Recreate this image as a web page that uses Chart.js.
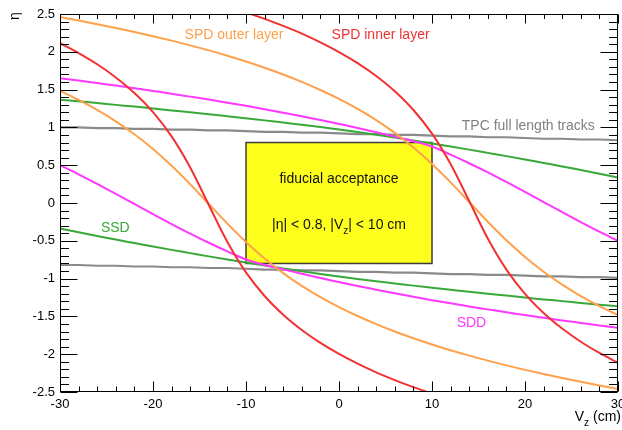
<!DOCTYPE html>
<html>
<head>
<meta charset="utf-8">
<script src="https://cdn.jsdelivr.net/npm/chart.js@4/dist/chart.umd.min.js"></script>
<style>
  html, body { margin: 0; padding: 0; background: #ffffff; }
  canvas { display: block; }
</style>
</head>
<body>
<canvas id="c" width="622" height="430"></canvas>
<script>
// Vertex position along the beam (cm)
const vz = [-30, -28, -26, -24, -22, -20, -18, -16, -14, -12, -10, -8, -6, -4, -2, 0,
            2, 4, 6, 8, 10, 12, 14, 16, 18, 20, 22, 24, 26, 28, 30];

// Pseudorapidity acceptance edges of each detector vs. Vz
const spdInnerHigh = [3.121, 3.075, 3.026, 2.975, 2.921, 2.865, 2.805, 2.741, 2.673, 2.600, 2.521, 2.436, 2.342, 2.240, 2.125, 1.997,
                      1.851, 1.680, 1.478, 1.230, 0.917, 0.515, 0.026, -0.470, -0.881, -1.202, -1.455, -1.661, -1.835, -1.983, -2.113];
const spdInnerLow  = [2.113, 1.983, 1.835, 1.661, 1.455, 1.202, 0.881, 0.470, -0.026, -0.515, -0.917, -1.230, -1.478, -1.680, -1.851, -1.997,
                      -2.125, -2.240, -2.342, -2.436, -2.521, -2.600, -2.673, -2.741, -2.805, -2.865, -2.921, -2.975, -3.026, -3.075, -3.121];
const spdOuterHigh = [2.459, 2.413, 2.365, 2.315, 2.262, 2.207, 2.148, 2.085, 2.019, 1.948, 1.871, 1.789, 1.700, 1.602, 1.495, 1.377,
                      1.245, 1.096, 0.927, 0.735, 0.516, 0.273, 0.013, -0.248, -0.493, -0.714, -0.909, -1.080, -1.231, -1.364, -1.484];
const spdOuterLow  = [1.484, 1.364, 1.231, 1.080, 0.909, 0.714, 0.493, 0.248, -0.013, -0.273, -0.516, -0.735, -0.927, -1.096, -1.245, -1.377,
                      -1.495, -1.602, -1.700, -1.789, -1.871, -1.948, -2.019, -2.085, -2.148, -2.207, -2.262, -2.315, -2.365, -2.413, -2.459];
const sddHigh = [1.650, 1.619, 1.586, 1.553, 1.518, 1.482, 1.446, 1.407, 1.368, 1.327, 1.285, 1.241, 1.195, 1.147, 1.098, 1.046,
                 0.993, 0.937, 0.878, 0.818, 0.747, 0.640, 0.526, 0.405, 0.278, 0.147, 0.013, -0.121, -0.252, -0.380, -0.502];
const sddLow  = [0.502, 0.380, 0.252, 0.121, -0.013, -0.147, -0.278, -0.405, -0.526, -0.640, -0.747, -0.818, -0.878, -0.937, -0.993, -1.046,
                 -1.098, -1.147, -1.195, -1.241, -1.285, -1.327, -1.368, -1.407, -1.446, -1.482, -1.518, -1.553, -1.586, -1.619, -1.650];
const ssdHigh = [1.367, 1.345, 1.322, 1.298, 1.275, 1.250, 1.225, 1.200, 1.174, 1.147, 1.120, 1.093, 1.064, 1.035, 1.006, 0.973,
                 0.938, 0.902, 0.865, 0.826, 0.787, 0.747, 0.706, 0.663, 0.620, 0.576, 0.530, 0.484, 0.436, 0.388, 0.338];
const ssdLow  = [-0.338, -0.388, -0.436, -0.484, -0.530, -0.576, -0.620, -0.663, -0.706, -0.747, -0.787, -0.826, -0.865, -0.902, -0.938, -0.973,
                 -1.006, -1.035, -1.064, -1.093, -1.120, -1.147, -1.174, -1.200, -1.225, -1.250, -1.275, -1.298, -1.322, -1.345, -1.367];
const tpcHigh = [1.00, 1.00, 0.99, 0.99, 0.98, 0.98, 0.97, 0.97, 0.96, 0.96, 0.95, 0.94, 0.94, 0.93, 0.93, 0.92,
                 0.91, 0.91, 0.90, 0.90, 0.89, 0.88, 0.88, 0.87, 0.87, 0.86, 0.85, 0.85, 0.84, 0.84, 0.83];
const tpcLow  = [-0.82, -0.82, -0.83, -0.83, -0.84, -0.84, -0.85, -0.85, -0.86, -0.86, -0.87, -0.88, -0.88, -0.89, -0.89, -0.90,
                 -0.91, -0.91, -0.92, -0.92, -0.93, -0.94, -0.94, -0.95, -0.95, -0.96, -0.97, -0.97, -0.98, -0.98, -0.99];

// Fiducial region
const fiducialVz  = [-10, 10];
const fiducialEta = [-0.8, 0.8];

// Axis ranges
const vzRange  = [-30, 30];
const etaRange = [-2.5, 2.5];

const FONT = '"Liberation Sans", Arial, Helvetica, sans-serif';
const RED = '#f23232', ORANGE = '#ffa04c', MAGENTA = '#ff38ff', GREEN = '#38a838', GREY = '#8a8a8a';

const curves = [
  { y: spdInnerHigh, color: RED },
  { y: spdInnerLow,  color: RED },
  { y: spdOuterHigh, color: ORANGE },
  { y: spdOuterLow,  color: ORANGE },
  { y: sddHigh,      color: MAGENTA },
  { y: sddLow,       color: MAGENTA },
  { y: ssdHigh,      color: GREEN },
  { y: ssdLow,       color: GREEN },
  { y: tpcHigh,      color: GREY, straight: true },
  { y: tpcLow,       color: GREY, straight: true }
];

const notes = [
  { text: 'SPD outer layer',        vz: -16.6, eta: 2.22,  color: ORANGE },
  { text: 'SPD inner layer',        vz: -0.8,  eta: 2.22,  color: RED },
  { text: 'TPC full length tracks', vz: 13.2,  eta: 1.02,  color: '#808080' },
  { text: 'SSD',                    vz: -25.6, eta: -0.33, color: GREEN },
  { text: 'SDD',                    vz: 12.65, eta: -1.59, color: MAGENTA }
];

// Draws text made of normal and subscript runs
function drawRuns(ctx, runs, x, y, align, size) {
  const fontFor = r => (r.sub ? Math.round(size * 0.72) : size) + 'px ' + FONT;
  let w = 0;
  runs.forEach(r => { ctx.font = fontFor(r); w += ctx.measureText(r.t).width; });
  let cx = align === 'center' ? x - w / 2 : (align === 'right' ? x - w : x);
  ctx.textAlign = 'left';
  ctx.textBaseline = 'middle';
  runs.forEach(r => {
    ctx.font = fontFor(r);
    ctx.fillText(r.t, cx, r.sub ? y + size * 0.42 : y);
    cx += ctx.measureText(r.t).width;
  });
}

const rootFrame = {
  id: 'rootFrame',
  beforeDatasetsDraw(chart) {
    const { ctx, scales: { x, y } } = chart;
    const x0 = x.getPixelForValue(fiducialVz[0]), x1 = x.getPixelForValue(fiducialVz[1]);
    const y0 = y.getPixelForValue(fiducialEta[1]), y1 = y.getPixelForValue(fiducialEta[0]);
    ctx.save();
    ctx.fillStyle = '#ffff1e';
    ctx.fillRect(x0, y0, x1 - x0, y1 - y0);
    ctx.strokeStyle = '#3c3c3c';
    ctx.lineWidth = 1.5;
    ctx.strokeRect(x0, y0, x1 - x0, y1 - y0);
    ctx.fillStyle = '#111111';
    const cx = (x0 + x1) / 2;
    drawRuns(ctx, [{ t: 'fiducial acceptance' }], cx, y.getPixelForValue(0.32), 'center', 14);
    drawRuns(ctx, [{ t: '|\u03B7| < 0.8, |V' }, { t: 'z', sub: true }, { t: '| < 10 cm' }],
             cx, y.getPixelForValue(-0.295), 'center', 14);
    ctx.restore();
  },
  afterDatasetsDraw(chart) {
    const { ctx, chartArea: a, scales: { x, y } } = chart;
    ctx.save();
    ctx.strokeStyle = '#000000';
    ctx.lineWidth = 1;
    const L = Math.round(a.left) + 0.5, R = Math.round(a.right) - 0.5;
    const T = Math.round(a.top) + 0.5, B = Math.round(a.bottom) - 0.5;
    ctx.strokeRect(L, T, R - L, B - T);
    ctx.beginPath();
    // horizontal axis ticks, every 2 cm, major every 10 cm
    for (let v = vzRange[0]; v <= vzRange[1]; v += 2) {
      const px = Math.round(x.getPixelForValue(v)) + 0.5;
      const major = v % 10 === 0;
      const lb = major ? 10 : 5, lt = major ? 9 : 4.5;
      ctx.moveTo(px, B); ctx.lineTo(px, B - lb);
      ctx.moveTo(px, T); ctx.lineTo(px, T + lt);
    }
    // vertical axis ticks, every 0.1, major every 0.5
    for (let i = Math.round(etaRange[0] * 10); i <= Math.round(etaRange[1] * 10); i++) {
      const py = Math.round(y.getPixelForValue(i / 10)) + 0.5;
      const len = i % 5 === 0 ? 17 : 8.5;
      ctx.moveTo(L, py); ctx.lineTo(L + len, py);
      ctx.moveTo(R, py); ctx.lineTo(R - len, py);
    }
    ctx.stroke();

    // detector labels
    ctx.font = '14px ' + FONT;
    ctx.textAlign = 'left';
    ctx.textBaseline = 'middle';
    notes.forEach(n => {
      ctx.fillStyle = n.color;
      ctx.fillText(n.text, x.getPixelForValue(n.vz), y.getPixelForValue(n.eta));
    });

    // axis titles
    ctx.fillStyle = '#000000';
    drawRuns(ctx, [{ t: 'V' }, { t: 'z', sub: true }, { t: ' (cm)' }], 621, 417.5, 'right', 14);
    ctx.save();
    ctx.translate(15, 16);
    ctx.rotate(-Math.PI / 2);
    ctx.font = '14px ' + FONT;
    ctx.textAlign = 'center';
    ctx.textBaseline = 'middle';
    ctx.fillText('\u03B7', 0, 0);
    ctx.restore();
    ctx.restore();
  }
};

const plainNumber = v => String(Math.round(v * 10) / 10);
const noOverhang = s => { s.paddingLeft = 0; s.paddingRight = 0; s.paddingTop = 0; s.paddingBottom = 0; };

new Chart(document.getElementById('c'), {
  type: 'line',
  data: {
    datasets: curves.map(c => ({
      data: vz.map((v, i) => ({ x: v, y: c.y[i] })),
      borderColor: c.color,
      borderWidth: c.straight ? 2.2 : 2,
      pointRadius: 0,
      fill: false,
      clip: 0,
      tension: 0,
      cubicInterpolationMode: c.straight ? 'default' : 'monotone'
    }))
  },
  options: {
    responsive: false,
    animation: false,
    devicePixelRatio: 1,
    layout: { padding: { left: 0, right: 4, top: 14, bottom: 0 } },
    plugins: { legend: { display: false }, tooltip: { enabled: false } },
    scales: {
      x: {
        type: 'linear',
        min: vzRange[0], max: vzRange[1],
        grid: { display: false, drawTicks: false },
        border: { display: false },
        ticks: { stepSize: 10, color: '#000', padding: 5, maxRotation: 0,
                 font: { family: FONT, size: 13 }, callback: plainNumber },
        afterFit: s => { s.height = 38; noOverhang(s); }
      },
      y: {
        min: etaRange[0], max: etaRange[1],
        grid: { display: false, drawTicks: false },
        border: { display: false },
        ticks: { stepSize: 0.5, color: '#000', padding: 5,
                 font: { family: FONT, size: 13 }, callback: plainNumber },
        afterFit: s => { s.width = 60; noOverhang(s); }
      }
    }
  },
  plugins: [rootFrame]
});
</script>
</body>
</html>
